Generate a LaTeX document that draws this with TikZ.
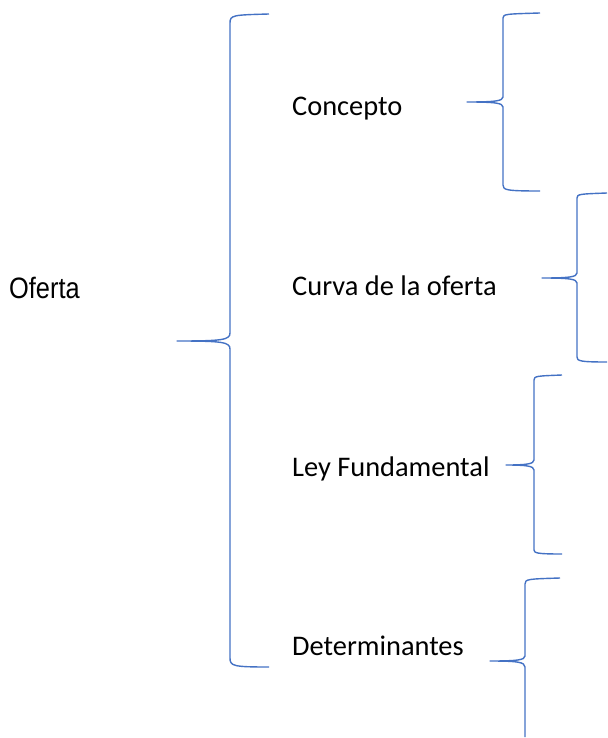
\documentclass[tikz,border=0pt]{standalone}
\usepackage{fontspec}
\setmainfont{Carlito}
\newfontfamily\arialfont{Liberation Sans}
\definecolor{braceblue}{RGB}{68,114,196}
\tikzset{
  bracepath/.style={draw=braceblue, line width=1.4pt, line join=round},
  label/.style={inner sep=0pt, anchor=base west, font=\fontsize{28.4}{30}\selectfont},
}
% #1 xv, #2 xe(top end), #3 ytop, #4 rtop, #5 xtip, #6 ymid, #7 rmid, #8 ybot, #9 rbot
\newcommand\mybrace[9]{%
  \draw[bracepath] (#2,#3) .. controls (#1+3,#3+1) and (#1,#3+1) .. (#1,#3+#4)
    -- (#1,#6-#7) .. controls (#1,#6-1) and (#1-8,#6) .. (#5,#6)
    .. controls (#1-8,#6) and (#1,#6+1) .. (#1,#6+#7)
    -- (#1,#8-#9) .. controls (#1,#8-1) and (#1+3,#8) .. (#2,#8);}
\begin{document}
\begin{tikzpicture}[x=1pt,y=-1pt]
\useasboundingbox (0,0) rectangle (607,738);
% main labels
\node[inner sep=0pt, anchor=base west, font=\arialfont\fontsize{29.5}{31}\selectfont] (oferta) at (9,298) {\scalebox{0.86}[1]{Oferta}};
\node[label] (concepto) at (292,116) {Concepto};
\node[label] (curva) at (292,295) {Curva de la oferta};
\node[label] (ley) at (292,476) {Ley Fundamental};
\node[label] (determ) at (292,655) {Determinantes};
% big brace
\mybrace{230}{269}{14}{9}{177}{341}{8}{667}{9}
% sub braces
\mybrace{503}{540}{13}{5}{467}{102}{5}{191}{6}
\mybrace{577}{607}{193}{5}{542}{278}{5}{362}{5}
\mybrace{534}{562}{375}{5}{506}{465}{5}{554}{4}
% last brace (open at bottom)
\draw[bracepath] (560,578) .. controls (528,579) and (525,579) .. (525,584)
  -- (525,656) .. controls (525,660) and (517,661) .. (490,661)
  .. controls (517,661) and (525,662) .. (525,667) -- (525,737);
\end{tikzpicture}
\end{document}
